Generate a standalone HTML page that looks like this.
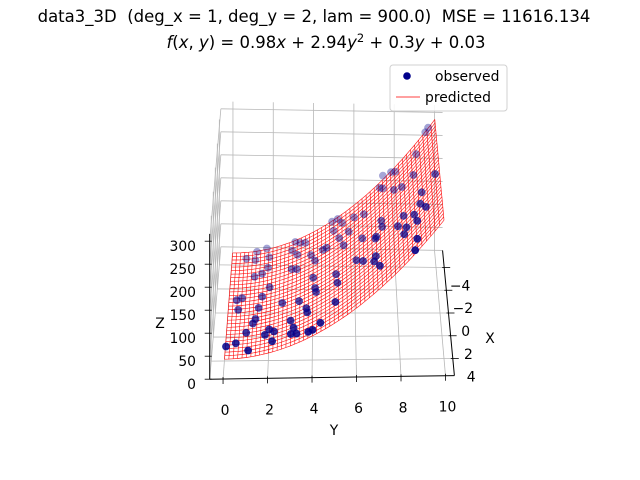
<!DOCTYPE html>
<html><head><meta charset="utf-8"><style>
html,body{margin:0;padding:0;background:#fff;}
svg{display:block;font-family:"DejaVu Sans","Liberation Sans",sans-serif;}
text{white-space:pre;}
</style></head><body>
<svg id="chart" width="640" height="480" viewBox="0 0 640 480" xmlns="http://www.w3.org/2000/svg" xml:space="preserve">
<rect width="640" height="480" fill="#fff"/>
<text x="314" y="22" text-anchor="middle" font-size="16.5">data3_3D  (deg_x = 1, deg_y = 2, lam = 900.0)  MSE = 11616.134</text>
<text x="326" y="48" text-anchor="middle" font-size="16.5"><tspan font-style="italic">f</tspan>(<tspan font-style="italic">x</tspan>, <tspan font-style="italic">y</tspan>) = 0.98<tspan font-style="italic">x</tspan> + 2.94<tspan font-style="italic">y</tspan><tspan dy="-6" font-size="11.5">2</tspan><tspan dy="6"> + 0.3</tspan><tspan font-style="italic">y</tspan> + 0.03</text>
<g id="grid"></g>
<g id="axes"></g>
<g id="surface"></g>
<g id="points"></g>
<text x="160" y="328" text-anchor="middle" font-size="13.9">Z</text>
<text x="334" y="435" text-anchor="middle" font-size="13.9">Y</text>
<text x="490" y="343" text-anchor="middle" font-size="13.9">X</text>
<g>
<rect x="390" y="65" width="117" height="46" rx="3" fill="#fff" fill-opacity="0.85" stroke="#d0d0d0" stroke-width="1"/>
<circle cx="407" cy="76" r="3.8" fill="#00008b"/>
<text x="435" y="81" font-size="13.9">observed</text>
<line x1="396" y1="97" x2="420" y2="97" stroke="#ff0000" stroke-width="0.8"/>
<text x="425" y="102" font-size="13.9">predicted</text>
</g>
</svg>
<script>
const coef = [0.98, 2.94, 0.3, 0.03];
const obsX = [2.90,2.66,3.41,-0.24,-1.09,-1.24,-4.64,-4.44,-5.14,-5.27,-2.99,-3.14,-3.56,-4.45,-1.79,-1.12,-0.18,0.75,1.10,1.83,2.32,1.93,2.23,3.04,-0.07,1.76,2.50,2.96,3.13,0.34,1.28,1.68,3.45,3.47,3.21,0.26,-0.14,-1.15,-2.78,-2.59,-3.85,-4.41,-5.06,-4.80,-4.60,-3.26,-2.58,-3.14,-3.15,-0.26,0.58,2.17,-5.15,-5.04,-4.43,-4.25,-3.27,-2.36,-3.23,-4.13,-3.69,-1.70,-0.20,0.34,1.18,2.01,0.86,-0.71,-0.80,-1.77,-1.17,-4.75,-4.44,-5.53,-5.13,-4.80,-3.36,-2.89,0.10,1.35,0.96,-0.27,0.60,1.41,2.93,3.70,-2.80,-4.28,-0.54,0.27,1.08,-0.71,-5.15,-5.24];
const obsY = [0.03,0.47,1.06,0.47,0.37,0.62,0.70,1.15,1.21,1.69,1.16,1.52,1.80,1.83,1.92,1.58,1.44,1.32,1.21,0.92,1.80,1.99,2.22,2.15,2.56,2.98,3.13,3.01,3.27,3.36,3.71,3.75,3.81,4.01,4.37,4.15,4.11,4.01,2.96,3.21,3.22,2.96,3.10,3.35,3.61,3.89,4.09,4.47,4.65,5.10,5.16,5.06,4.92,5.20,5.41,4.99,5.26,5.47,5.72,5.99,6.47,6.36,6.06,6.37,6.87,7.12,6.96,6.96,7.01,7.27,7.30,7.26,7.41,7.44,7.83,8.03,7.92,8.29,8.01,8.27,8.39,8.29,8.76,8.87,8.82,8.70,8.85,9.04,9.16,9.06,9.29,9.80,9.53,9.67];
const obsZ = [2.9,3.4,7.0,0.6,-0.5,0.1,-2.9,-0.1,-0.3,3.8,1.4,4.2,6.6,6.1,9.7,6.7,6.4,6.3,5.8,4.6,12.4,14.2,17.4,17.2,20.0,28.8,32.2,30.5,35.5,34.6,42.9,44.2,47.2,51.9,60.6,52.2,50.8,47.4,24.0,28.7,27.7,22.4,24.3,29.3,34.9,42.5,47.9,57.0,61.9,77.8,80.4,79.0,67.6,76.2,83.4,70.6,79.8,87.3,94.8,103.3,121.4,119.2,109.6,121.6,142.0,153.2,145.4,143.8,145.8,155.9,157.7,152.5,159.3,159.6,177.6,187.3,183.5,201.7,191.2,204.9,210.4,204.3,228.9,235.4,234.3,228.8,230.2,238.8,248.9,244.3,257.6,284.6,264.9,272.7];
const xTicks = [-4,-2,0,2,4];
const yTicks = [0,2,4,6,8,10];
const zTicks = [0,50,100,150,200,250,300];
const xTickLabels = ["\u22124","\u22122","0","2","4"];
const yTickLabels = ["0","2","4","6","8","10"];
const zTickLabels = ["0","50","100","150","200","250","300"];

const XMIN=-5.5, XMAX=5.5, YMIN=-0.6, YMAX=10.4, ZMIN=0, ZMAX=316;
const NS="http://www.w3.org/2000/svg";
function P(x,y,z){ return [228 + 21.2*y + x*(-0.9+0.19*y), 313 + (12.0-0.06*y)*x - 0.46*z]; }
function fz(x,y){ return coef[0]*x + coef[1]*y*y + coef[2]*y + coef[3]; }
function mk(tag, attrs, parent){ const e=document.createElementNS(NS,tag); for(const k in attrs) e.setAttribute(k,attrs[k]); parent.appendChild(e); return e; }
function seg(a,b,parent,color,w,name){
  const p=P(a[0],a[1],a[2]), q=P(b[0],b[1],b[2]);
  const l=mk('line',{x1:p[0],y1:p[1],x2:q[0],y2:q[1],stroke:color,'stroke-width':w},parent);
  
  
  return l;
}
const grid=document.getElementById('grid');
const GC='#b8b8b8', GW=0.8;
zTicks.forEach(z=>seg([XMIN,YMIN,z],[XMIN,YMAX,z],grid,GC,GW,'back-wall-z-gridline'));
yTicks.forEach(y=>seg([XMIN,y,ZMIN],[XMIN,y,ZMAX],grid,GC,GW,'back-wall-y-gridline'));
yTicks.forEach(y=>seg([XMIN,y,0],[XMAX,y,0],grid,GC,GW,'floor-y-gridline'));
xTicks.forEach(x=>seg([x,YMIN,0],[x,YMAX,0],grid,GC,GW,'floor-x-gridline'));
zTicks.forEach(z=>seg([XMIN,YMIN,z],[XMAX,YMIN,z],grid,GC,GW,'left-wall-z-gridline'));
xTicks.forEach(x=>seg([x,YMIN,ZMIN],[x,YMIN,ZMAX],grid,GC,GW,'left-wall-x-gridline'));

const axes=document.getElementById('axes');
seg([XMAX,YMIN,0],[XMAX,YMAX,0],axes,'#000',1,'y-axis-line');
seg([XMIN,YMAX,0],[XMAX,YMAX,0],axes,'#000',1,'x-axis-line');
seg([XMAX,YMIN,0],[XMAX,YMIN,ZMAX],axes,'#000',1,'z-axis-line');
yTicks.forEach((y,i)=>{
  const p=P(XMAX,y,0);
  const t=mk('line',{x1:p[0],y1:p[1]-2,x2:p[0],y2:p[1]+5,stroke:'#000','stroke-width':0.8},axes);
  
  
  const tx=mk('text',{x:p[0]+2,y:p[1]+36,'text-anchor':'middle','font-size':13.9},axes);
  tx.textContent=yTickLabels[i];
  
  
});
xTicks.forEach((x,i)=>{
  const p=P(x,YMAX,0);
  const t=mk('line',{x1:p[0]-2,y1:p[1],x2:p[0]+6,y2:p[1],stroke:'#000','stroke-width':0.8},axes);
  
  
  const tx=mk('text',{x:p[0]+16+i*0.6,y:p[1]+23,'text-anchor':'middle','font-size':13.9},axes);
  tx.textContent=xTickLabels[i];
  
  
});
zTicks.forEach((z,i)=>{
  const p=P(XMAX,YMIN,z);
  const t=mk('line',{x1:p[0]-5,y1:p[1],x2:p[0]+2,y2:p[1],stroke:'#000','stroke-width':0.8},axes);
  
  
  const tx=mk('text',{x:196,y:p[1]+10,'text-anchor':'end','font-size':13.9},axes);
  tx.textContent=zTickLabels[i];
  
  
});

const surf=document.getElementById('surface');
const SX0=-5.2, SX1=4, NXS=30, SY0=0, SY1=10, NYS=50;
for(let j=0;j<=NYS;j++){
  const y=SY0+(SY1-SY0)*j/NYS; const pts=[];
  for(let i=0;i<=NXS;i++){ const x=SX0+(SX1-SX0)*i/NXS; const p=P(x,y,fz(x,y)); pts.push(p[0].toFixed(1)+','+p[1].toFixed(1)); }
  const pl=mk('polyline',{points:pts.join(' '),fill:'none',stroke:'#ff0000','stroke-width':0.65,'stroke-opacity':0.9},surf);
  
  
}
for(let i=0;i<=NXS;i++){
  const x=SX0+(SX1-SX0)*i/NXS; const pts=[];
  for(let j=0;j<=NYS;j++){ const y=SY0+(SY1-SY0)*j/NYS; const p=P(x,y,fz(x,y)); pts.push(p[0].toFixed(1)+','+p[1].toFixed(1)); }
  const pl=mk('polyline',{points:pts.join(' '),fill:'none',stroke:'#ff0000','stroke-width':0.65,'stroke-opacity':0.9},surf);
  
  
}

const pg=document.getElementById('points');
for(let k=0;k<obsX.length;k++){
  const p=P(obsX[k],obsY[k],obsZ[k]);
  const a=0.35+0.65*(obsX[k]-XMIN)/(XMAX-XMIN);
  const c=mk('circle',{cx:p[0].toFixed(1),cy:p[1].toFixed(1),r:3.9,fill:'#00008b','fill-opacity':a.toFixed(2)},pg);
  
  
}
</script>
</body></html>
